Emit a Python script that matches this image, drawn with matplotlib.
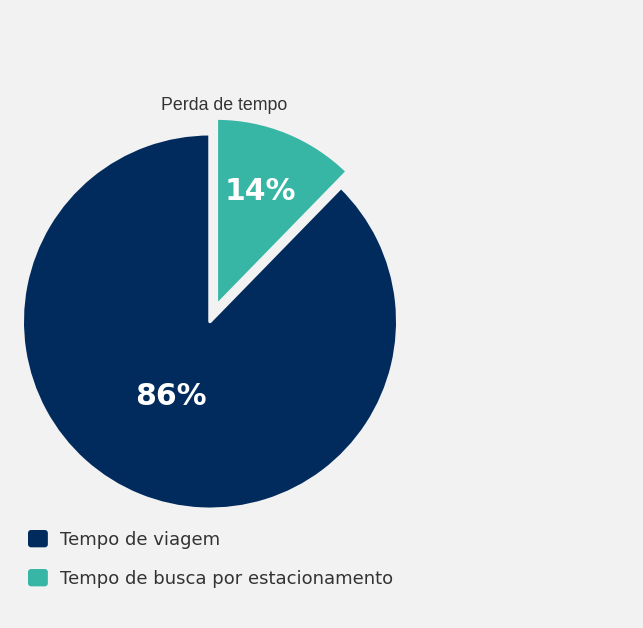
import matplotlib
matplotlib.use("Agg")
import matplotlib.pyplot as plt
from matplotlib.patches import FancyBboxPatch
from matplotlib.legend_handler import HandlerPatch
from matplotlib.patches import Patch

# ---- data ----
categories = ["Tempo de busca por estacionamento", "Tempo de viagem"]
values = [12.3, 87.7]          # slice sizes as drawn in the picture
pct_labels = ["14%", "86%"]    # labels as printed on the picture
colors = ["#37B6A5", "#002B5C"]
slice_name = "Perda de tempo"
legend_order = [1, 0]

BG = "#F2F2F2"
W, H = 643, 628
fig = plt.figure(figsize=(W / 100, H / 100), dpi=100, facecolor=BG)

lw_pt = 2.5
lw_px = lw_pt * 100 / 72
cx, cy, r_vis = 210, 321.5, 186
r = r_vis + lw_px / 2
ax = fig.add_axes([(cx - r) / W, (H - cy - r) / H, 2 * r / W, 2 * r / H])
ax.set_facecolor(BG)

explode = [0.09, 0.0]
wedges, _ = ax.pie(values, colors=colors, startangle=90, counterclock=False,
                   explode=explode, radius=1,
                   wedgeprops=dict(edgecolor=BG, linewidth=lw_pt, joinstyle="round"))
ax.set_xlim(-1, 1)
ax.set_ylim(-1, 1)
ax.set_aspect("equal")
ax.axis("off")

# percentage labels (axes data coordinates relative to pie centre)
label_pos = [(0.266, 0.695), (-0.208, -0.402)]
for i, (lx, ly) in enumerate(label_pos):
    ax.text(lx, ly, pct_labels[i], ha="center", va="center", color="white",
            fontsize=21.5, fontweight="bold", family="DejaVu Sans")

# slice name label above the exploded slice
fig.text(224.5 / W, 1 - 105.5 / H, slice_name, ha="center", va="center",
         fontsize=12.8, color="#333333", family="Liberation Sans")


class RoundHandler(HandlerPatch):
    def create_artists(self, legend, orig_handle, xdescent, ydescent,
                       width, height, fontsize, trans):
        p = FancyBboxPatch((-xdescent, -ydescent), width, height,
                           boxstyle="round,pad=0,rounding_size=2.2",
                           facecolor=orig_handle.get_facecolor(),
                           edgecolor="none", transform=trans)
        return [p]


handles = [Patch(facecolor=colors[i], edgecolor="none") for i in legend_order]
labels = [categories[i] for i in legend_order]
fig.legend(handles, labels, loc="upper left",
           bbox_to_anchor=(28 / W, 1 - 530 / H), frameon=False,
           fontsize=13, handlelength=1.1, handleheight=1.1,
           handletextpad=0.7, labelspacing=1.12, borderpad=0,
           borderaxespad=0, labelcolor="#333333",
           handler_map={Patch: RoundHandler()})

fig.savefig("out.png", dpi=100, facecolor=BG)
